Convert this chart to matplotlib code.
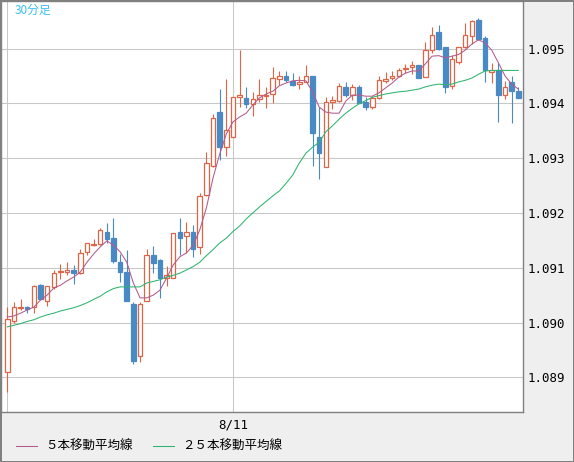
import matplotlib.pyplot as plt
import numpy as np

# ===== データ (30分足) =====
opens = [1.08910, 1.09003, 1.09027, 1.09028, 1.09028, 1.09068, 1.09040, 1.09064, 1.09092, 1.09093,
         1.09096, 1.09090, 1.09128, 1.09142, 1.09143, 1.09165, 1.09154, 1.09110, 1.09093, 1.09034,
         1.08938, 1.09040, 1.09124, 1.09114, 1.09081, 1.09082, 1.09165, 1.09158, 1.09165, 1.09138,
         1.09233, 1.09286, 1.09384, 1.09321, 1.09338, 1.09411, 1.09409, 1.09399, 1.09408, 1.09413,
         1.09417, 1.09445, 1.09449, 1.09441, 1.09435, 1.09439, 1.09449, 1.09339, 1.09284, 1.09402,
         1.09405, 1.09429, 1.09416, 1.09429, 1.09402, 1.09393, 1.09409, 1.09440, 1.09446, 1.09449,
         1.09462, 1.09466, 1.09469, 1.09448, 1.09497, 1.09531, 1.09502, 1.09432, 1.09476, 1.09502,
         1.09522, 1.09552, 1.09520, 1.09457, 1.09460, 1.09415, 1.09438, 1.09422]
highs = [1.09028, 1.09037, 1.09043, 1.09030, 1.09068, 1.09070, 1.09067, 1.09096, 1.09107, 1.09110,
         1.09105, 1.09134, 1.09146, 1.09152, 1.09172, 1.09182, 1.09191, 1.09125, 1.09132, 1.09038,
         1.09038, 1.09134, 1.09140, 1.09115, 1.09103, 1.09163, 1.09190, 1.09183, 1.09178, 1.09236,
         1.09312, 1.09381, 1.09427, 1.09444, 1.09411, 1.09497, 1.09430, 1.09421, 1.09444, 1.09430,
         1.09466, 1.09459, 1.09459, 1.09456, 1.09449, 1.09470, 1.09450, 1.09394, 1.09411, 1.09413,
         1.09437, 1.09439, 1.09435, 1.09433, 1.09411, 1.09414, 1.09449, 1.09457, 1.09459, 1.09464,
         1.09472, 1.09477, 1.09470, 1.09512, 1.09540, 1.09542, 1.09503, 1.09489, 1.09503, 1.09546,
         1.09552, 1.09556, 1.09523, 1.09473, 1.09473, 1.09441, 1.09449, 1.09430]
lows = [1.08873, 1.08999, 1.09023, 1.09018, 1.09017, 1.09041, 1.09030, 1.09062, 1.09079, 1.09087,
        1.09070, 1.09089, 1.09123, 1.09140, 1.09142, 1.09145, 1.09109, 1.09074, 1.09039, 1.08924,
        1.08928, 1.09039, 1.09091, 1.09045, 1.09067, 1.09081, 1.09123, 1.09127, 1.09119, 1.09125,
        1.09231, 1.09284, 1.09297, 1.09303, 1.09338, 1.09394, 1.09391, 1.09377, 1.09402, 1.09391,
        1.09401, 1.09433, 1.09438, 1.09432, 1.09427, 1.09438, 1.09286, 1.09262, 1.09283, 1.09390,
        1.09402, 1.09411, 1.09406, 1.09400, 1.09387, 1.09390, 1.09407, 1.09437, 1.09443, 1.09448,
        1.09455, 1.09453, 1.09446, 1.09448, 1.09491, 1.09497, 1.09418, 1.09427, 1.09471, 1.09501,
        1.09509, 1.09516, 1.09438, 1.09437, 1.09366, 1.09407, 1.09364, 1.09409]
closes = [1.09006, 1.09029, 1.09029, 1.09025, 1.09066, 1.09043, 1.09066, 1.09090, 1.09094, 1.09095,
          1.09091, 1.09126, 1.09145, 1.09143, 1.09169, 1.09153, 1.09113, 1.09092, 1.09040, 1.08930,
          1.09034, 1.09124, 1.09109, 1.09082, 1.09087, 1.09163, 1.09154, 1.09166, 1.09135, 1.09231,
          1.09291, 1.09374, 1.09320, 1.09351, 1.09411, 1.09415, 1.09398, 1.09407, 1.09416, 1.09416,
          1.09447, 1.09449, 1.09442, 1.09433, 1.09439, 1.09449, 1.09345, 1.09310, 1.09402, 1.09406,
          1.09431, 1.09416, 1.09429, 1.09401, 1.09394, 1.09410, 1.09442, 1.09444, 1.09449, 1.09460,
          1.09464, 1.09469, 1.09447, 1.09497, 1.09525, 1.09499, 1.09429, 1.09480, 1.09502, 1.09525,
          1.09550, 1.09517, 1.09461, 1.09460, 1.09416, 1.09430, 1.09423, 1.09410]
ma5 = [1.09010, 1.09012, 1.09017, 1.09023, 1.09028, 1.09041, 1.09050, 1.09063, 1.09068, 1.09076,
       1.09083, 1.09092, 1.09110, 1.09125, 1.09138, 1.09149, 1.09141, 1.09129, 1.09110, 1.09072,
       1.09045, 1.09045, 1.09050, 1.09059, 1.09081, 1.09105, 1.09120, 1.09127, 1.09141, 1.09169,
       1.09209, 1.09264, 1.09307, 1.09344, 1.09366, 1.09375, 1.09382, 1.09397, 1.09410, 1.09417,
       1.09422, 1.09432, 1.09437, 1.09441, 1.09442, 1.09441, 1.09421, 1.09393, 1.09384, 1.09382,
       1.09382, 1.09404, 1.09415, 1.09415, 1.09413, 1.09413, 1.09419, 1.09428, 1.09437, 1.09448,
       1.09455, 1.09459, 1.09459, 1.09472, 1.09486, 1.09487, 1.09483, 1.09486, 1.09489, 1.09497,
       1.09508, 1.09516, 1.09510, 1.09497, 1.09474, 1.09450, 1.09435, 1.09426]
ma25 = [1.08992, 1.08995, 1.08998, 1.09002, 1.09005, 1.09010, 1.09014, 1.09017, 1.09021, 1.09024,
        1.09027, 1.09031, 1.09036, 1.09042, 1.09048, 1.09056, 1.09062, 1.09065, 1.09065, 1.09065,
        1.09065, 1.09072, 1.09075, 1.09078, 1.09083, 1.09086, 1.09090, 1.09096, 1.09102, 1.09110,
        1.09122, 1.09133, 1.09145, 1.09154, 1.09166, 1.09176, 1.09189, 1.09200, 1.09211, 1.09221,
        1.09231, 1.09240, 1.09254, 1.09269, 1.09291, 1.09309, 1.09320, 1.09329, 1.09348, 1.09359,
        1.09371, 1.09382, 1.09391, 1.09399, 1.09405, 1.09411, 1.09414, 1.09417, 1.09419, 1.09421,
        1.09422, 1.09424, 1.09426, 1.09430, 1.09433, 1.09435, 1.09434, 1.09435, 1.09439, 1.09442,
        1.09446, 1.09453, 1.09459, 1.09460, 1.09460, 1.09460, 1.09460, 1.09460]
yticks = [1.089, 1.090, 1.091, 1.092, 1.093, 1.094, 1.095]
date_ticks = [0, 34]
date_labels = ['', '8/11']

# ===== 色 =====
UP = '#dd6444'
DOWN = '#4a8ac4'
MA5_C = '#b45a8c'
MA25_C = '#2db46e'
GRID = '#c8c8c8'
FRAME = '#808080'
BG = '#efefef'
JP = ['Noto Sans CJK JP', 'DejaVu Sans']

fig = plt.figure(figsize=(5.74, 4.62), dpi=100, facecolor=BG)
fig.patch.set_edgecolor(FRAME)
fig.patch.set_linewidth(2)
ax = fig.add_axes([1 / 574, 50 / 462, 522 / 574, 411 / 462])
ax.set_facecolor('white')

x = np.arange(len(opens))
o, h, l, c = map(np.array, (opens, highs, lows, closes))
up = c >= o
dn = ~up

# ヒゲ
ax.vlines(x[up], l[up], h[up], color=UP, lw=0.8, zorder=2)
ax.vlines(x[dn], l[dn], h[dn], color=DOWN, lw=0.8, zorder=2)
# 実体
ax.bar(x[up], c[up] - o[up], bottom=o[up], width=0.68, facecolor='white',
       edgecolor=UP, lw=0.9, zorder=3)
ax.bar(x[dn], o[dn] - c[dn], bottom=c[dn], width=0.68, facecolor=DOWN,
       edgecolor=DOWN, lw=0.9, zorder=3)

# 移動平均線
ax.plot(x, ma5, color=MA5_C, lw=0.75, zorder=4, label='５本移動平均線')
ax.plot(x, ma25, color=MA25_C, lw=0.75, zorder=4, label='２５本移動平均線')

ax.set_xlim(-0.95, 77.71)
ax.set_ylim(1.088367, 1.095867)

ax.yaxis.tick_right()
ax.set_yticks(yticks)
ax.set_yticklabels([f'{v:.3f}' for v in yticks], fontfamily='DejaVu Sans Mono', fontsize=9)
ax.tick_params(axis='y', length=0, pad=3)
ax.set_xticks(date_ticks)
ax.set_xticklabels(date_labels, fontfamily='DejaVu Sans Mono', fontsize=9)
ax.tick_params(axis='x', length=0, pad=4.5)

ax.grid(True, color=GRID, lw=0.75)
ax.set_axisbelow(True)
for s in ax.spines.values():
    s.set_color(FRAME)
    s.set_linewidth(1)

fig.text(15 / 574, 1 - 10 / 462, '30分足', color='#3cbef0', fontsize=8.5,
         family=JP, ha='left', va='center')

ax.legend(loc='center left', bbox_to_anchor=(16 / 574, 15.3 / 462),
          bbox_transform=fig.transFigure, ncol=2, frameon=False,
          prop={'family': JP, 'size': 9}, handlelength=1.68, handletextpad=0.64,
          columnspacing=1.64, borderpad=0, borderaxespad=0)

fig.savefig('out.png', dpi=100, facecolor=BG, edgecolor=FRAME)
